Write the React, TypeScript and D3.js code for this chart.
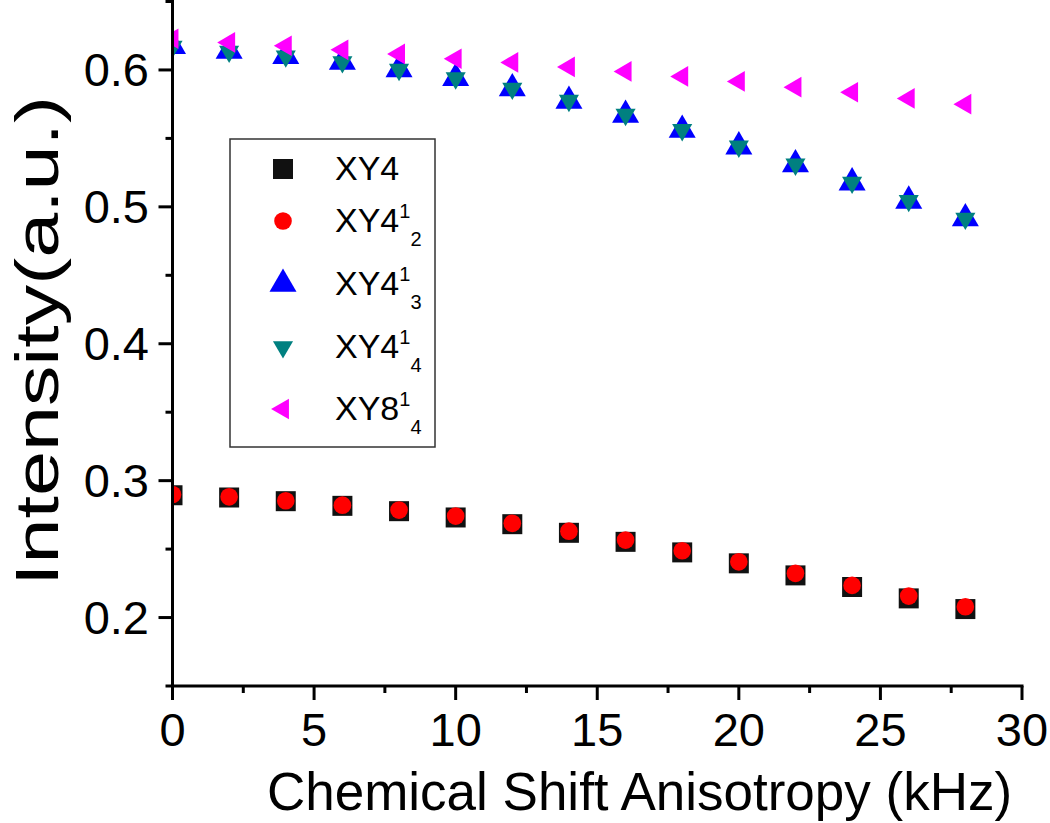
import React from "react";
import * as d3 from "d3";

const xValues = [0, 2, 4, 6, 8, 10, 12, 14, 16, 18, 20, 22, 24, 26, 28];
const xy4 = [0.2894, 0.2877, 0.285, 0.2816, 0.2777, 0.2731, 0.2682, 0.2619, 0.2553, 0.2476, 0.2396, 0.2308, 0.2223, 0.214, 0.2062];
const xy4_12 = [0.2899, 0.2882, 0.2853, 0.2821, 0.2785, 0.2741, 0.2688, 0.2631, 0.2566, 0.2488, 0.2407, 0.2323, 0.2235, 0.2157, 0.2079];
const xy4_13 = [0.6174, 0.6138, 0.6101, 0.6058, 0.6004, 0.5939, 0.5864, 0.5773, 0.5671, 0.5561, 0.544, 0.5309, 0.5177, 0.5043, 0.4915];
const xy4_14 = [0.617, 0.6135, 0.61, 0.6058, 0.6003, 0.594, 0.5865, 0.5776, 0.5674, 0.5563, 0.5442, 0.5311, 0.5178, 0.5045, 0.4915];
const xy8_14 = [0.6228, 0.6201, 0.6177, 0.6147, 0.6117, 0.6082, 0.6055, 0.6022, 0.5989, 0.5953, 0.5916, 0.5874, 0.5837, 0.5792, 0.575];

const xMajorTicks = [0, 5, 10, 15, 20, 25, 30];
const xMinorTicks = [2.5, 7.5, 12.5, 17.5, 22.5, 27.5];
const yMajorTicks = [0.2, 0.3, 0.4, 0.5, 0.6];
const yMinorTicks = [0.15, 0.25, 0.35, 0.45, 0.55, 0.65];
const yTickLabels = ["0.2", "0.3", "0.4", "0.5", "0.6"];

const xTitle = "Chemical Shift Anisotropy (kHz)";
const yTitle = "Intensity(a.u.)";

const FONT = "'Liberation Sans', Arial, Helvetica, sans-serif";

type SeriesDef = {
  name: string;
  sup?: string;
  sub?: string;
  values: number[];
  color: string;
  shape: d3.SymbolType;
  size: number;
  rotate: number;
};

const series: SeriesDef[] = [
  { name: "XY4", values: xy4, color: "#111111", shape: d3.symbolSquare, size: 400, rotate: 0 },
  { name: "XY4", sup: "1", sub: "2", values: xy4_12, color: "#ff0000", shape: d3.symbolCircle, size: 245, rotate: 0 },
  { name: "XY4", sup: "1", sub: "3", values: xy4_13, color: "#0000ff", shape: d3.symbolTriangle, size: 316, rotate: 0 },
  { name: "XY4", sup: "1", sub: "4", values: xy4_14, color: "#008080", shape: d3.symbolTriangle, size: 175, rotate: 180 },
  { name: "XY8", sup: "1", sub: "4", values: xy8_14, color: "#ff00ff", shape: d3.symbolTriangle, size: 185, rotate: -90 },
];

const legendBaselines = [180, 232, 295, 358, 420];

export default function App() {
  const W = 1050;
  const H = 823;
  const x = d3.scaleLinear().domain([0, 30]).range([172.5, 1022]);
  const y = d3.scaleLinear().domain([0.15, 0.65]).range([686, 1.5]);
  const sym = (s: SeriesDef) => d3.symbol().type(s.shape).size(s.size)() || "";

  const axisColor = "#000";
  const sw = 3;

  return (
    <svg
      width={W}
      height={H}
      style={{ position: "absolute", left: 0, top: 0, background: "#fff" }}
      fontFamily={FONT}
    >
      <defs>
        <clipPath id="plotClip">
          <rect x={x(0)} y={0} width={x(30) - x(0) + 20} height={y(0.15)} />
        </clipPath>
      </defs>
      <rect x={0} y={0} width={W} height={H} fill="#fff" />

      {/* data markers */}
      <g clipPath="url(#plotClip)">
        {series.map((s, si) => (
          <g key={si} fill={s.color}>
            {s.values.map((v, i) => (
              <path
                key={i}
                d={sym(s)}
                transform={`translate(${x(xValues[i])},${y(v)}) rotate(${s.rotate})`}
              />
            ))}
          </g>
        ))}
      </g>

      {/* axes */}
      <g stroke={axisColor} strokeWidth={sw} fill="none">
        <line x1={x(0)} x2={x(0)} y1={0} y2={y(0.15) + sw / 2} />
        <line x1={x(0) - sw / 2} x2={x(30) + sw / 2} y1={y(0.15)} y2={y(0.15)} />
        {xMajorTicks.map((t) => (
          <line key={"xM" + t} x1={x(t)} x2={x(t)} y1={y(0.15)} y2={y(0.15) + 14} />
        ))}
        {xMinorTicks.map((t) => (
          <line key={"xm" + t} x1={x(t)} x2={x(t)} y1={y(0.15)} y2={y(0.15) + 7} />
        ))}
        {yMajorTicks.map((t) => (
          <line key={"yM" + t} x1={x(0)} x2={x(0) - 14} y1={y(t)} y2={y(t)} />
        ))}
        {yMinorTicks.map((t) => (
          <line key={"ym" + t} x1={x(0)} x2={x(0) - 7} y1={y(t)} y2={y(t)} />
        ))}
      </g>

      {/* tick labels */}
      <g fontSize={47} fill="#000">
        {xMajorTicks.map((t) => (
          <text key={"xl" + t} x={x(t)} y={746} textAnchor="middle">
            {String(t)}
          </text>
        ))}
        {yMajorTicks.map((t, i) => (
          <text key={"yl" + t} x={149} y={y(t) + 16} textAnchor="end">
            {yTickLabels[i]}
          </text>
        ))}
      </g>

      {/* axis titles */}
      <text x={(262 + 1017) / 2} y={810} fontSize={53} textAnchor="middle" fill="#000">
        {xTitle}
      </text>
      <text
        transform={`translate(58,341) rotate(-90)`}
        fontSize={62}
        textAnchor="middle"
        textLength={490}
        lengthAdjust="spacingAndGlyphs"
        fill="#000"
      >
        {yTitle}
      </text>

      {/* legend */}
      <rect x={230} y={139} width={205} height={308} fill="#fff" stroke="#333" strokeWidth={1.5} />
      {series.map((s, i) => {
        const b = legendBaselines[i];
        return (
          <g key={"lg" + i}>
            <path
              d={sym(s)}
              fill={s.color}
              transform={`translate(283,${b - 11}) rotate(${s.rotate})`}
            />
            <text x={335} y={b} fontSize={34} fill="#000">
              <tspan>{s.name}</tspan>
              {s.sup && (
                <tspan fontSize={20} dy={-14}>
                  {s.sup}
                </tspan>
              )}
              {s.sub && (
                <tspan fontSize={20} dy={28}>
                  {s.sub}
                </tspan>
              )}
            </text>
          </g>
        );
      })}
    </svg>
  );
}
